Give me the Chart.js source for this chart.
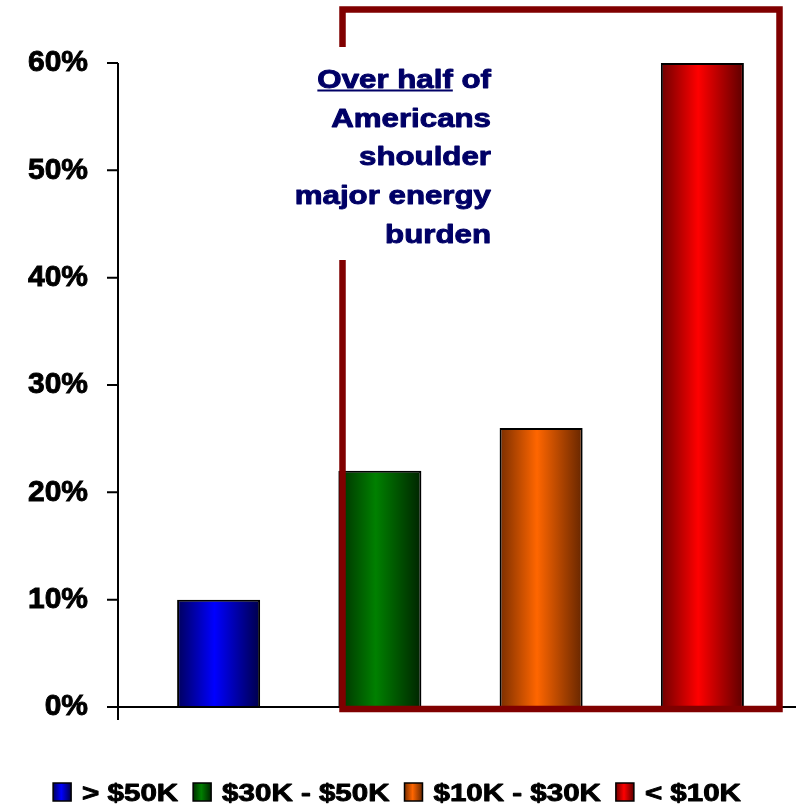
<!DOCTYPE html>
<html>
<head>
<meta charset="utf-8">
<title>Energy burden by income</title>
<script src="https://cdn.jsdelivr.net/npm/chart.js@4.4.1/dist/chart.umd.min.js"></script>
<style>
  html, body { margin: 0; padding: 0; background: #fff; }
  #wrap { width: 796px; height: 805px; position: relative; }
</style>
</head>
<body>
<div id="wrap"><canvas id="burden-chart"></canvas></div>
<script>
const incomeGroups = ['> $50K', '$30K - $50K', '$10K - $30K', '< $10K'];
const burdenShare = [10, 22, 26, 60];
const yTicks = [0, 10, 20, 30, 40, 50, 60];
const barColors = ['#0000FF', '#008000', '#FF6600', '#FF0000'];
const barShadeLeft = ['#00005C', '#002E00', '#7A2E00', '#6E0000'];
const barShadeRight = ['#00004A', '#002400', '#662600', '#5C0000'];
const noteLines = ['Over half of', 'Americans', 'shoulder', 'major energy', 'burden'];

const FONT = '"Liberation Sans", Arial, sans-serif';
const barPct = 0.515;

// left-dark / bright / right-dark shading like the old 3D office bars
function barGradient(ctx, left, right, i) {
    const g = ctx.createLinearGradient(left, 0, right, 0);
    g.addColorStop(0, barShadeLeft[i]);
    g.addColorStop(0.45, barColors[i]);
    g.addColorStop(1, barShadeRight[i]);
    return g;
}

// heavier text: fill plus a thin outline in the same colour
function heavyText(ctx, text, x, y, color, w) {
    ctx.fillStyle = color;
    ctx.strokeStyle = color;
    ctx.lineWidth = w;
    ctx.lineJoin = 'round';
    ctx.strokeText(text, x, y);
    ctx.fillText(text, x, y);
}

// axes, the framing box, the note and the legend
const burdenDecor = {
    id: 'burdenDecor',
    afterDatasetsDraw(chart) {
        const { ctx } = chart;
        const y = chart.scales.y;
        const zeroY = y.getPixelForValue(0);

        ctx.save();
        ctx.strokeStyle = '#000';
        ctx.lineWidth = 2;
        ctx.beginPath();
        ctx.moveTo(118, y.getPixelForValue(60));
        ctx.lineTo(118, zeroY + 13);
        yTicks.forEach(v => {
            const py = y.getPixelForValue(v);
            ctx.moveTo(107, py);
            ctx.lineTo(118, py);
        });
        ctx.moveTo(107, zeroY);
        ctx.lineTo(796, zeroY);
        ctx.stroke();

        // dark red box round the three lower income groups
        ctx.strokeStyle = '#800000';
        ctx.lineWidth = 6.5;
        ctx.lineJoin = 'miter';
        ctx.beginPath();
        ctx.moveTo(342.5, 47);
        ctx.lineTo(342.5, 9.5);
        ctx.lineTo(779.5, 9.5);
        ctx.lineTo(779.5, 709);
        ctx.lineTo(342.5, 709);
        ctx.lineTo(342.5, 260);
        ctx.stroke();

        // note text, stretched wide like the original
        const sx = 1.25;
        const right = 491 / sx;
        ctx.scale(sx, 1);
        ctx.font = 'bold 25px ' + FONT;
        ctx.textAlign = 'right';
        ctx.textBaseline = 'alphabetic';
        const navy = '#000066';
        const baselines = [87.5, 126.5, 165, 204, 243];
        const tail = ' of';
        const head = noteLines[0].slice(0, noteLines[0].length - tail.length);
        const wTail = ctx.measureText(tail).width;
        const wHead = ctx.measureText(head).width;
        heavyText(ctx, tail, right, baselines[0], navy, 0.9);
        heavyText(ctx, head, right - wTail, baselines[0], navy, 0.9);
        ctx.fillRect(right - wTail - wHead, baselines[0] + 2, wHead, 2);
        noteLines.slice(1).forEach((line, i) => {
            heavyText(ctx, line, right, baselines[i + 1], navy, 0.9);
        });
        ctx.restore();

        // legend
        ctx.save();
        const lx = 1.23;
        ctx.font = 'bold 24px ' + FONT;
        const widths = incomeGroups.map(t => ctx.measureText(t).width * lx);
        const box = 18, gapBox = 11, gapItem = 15;
        const total = widths.reduce((a, w) => a + w + box + gapBox, 0) + gapItem * (incomeGroups.length - 1);
        let x = 397 - total / 2;
        const boxTop = 783, base = 801;
        incomeGroups.forEach((label, i) => {
            ctx.fillStyle = barGradient(ctx, x, x + box, i);
            ctx.fillRect(x, boxTop, box, box);
            ctx.strokeStyle = '#000';
            ctx.lineWidth = 1.5;
            ctx.strokeRect(x, boxTop, box, box);
            const tx = x + box + gapBox;
            ctx.save();
            ctx.scale(lx, 1);
            ctx.textAlign = 'left';
            ctx.textBaseline = 'alphabetic';
            heavyText(ctx, label, tx / lx, base, '#000', 0.9);
            ctx.restore();
            x = tx + widths[i] + gapItem;
        });
        ctx.restore();
    }
};

function init() {
    Chart.defaults.font.family = FONT;
    new Chart(document.getElementById('burden-chart'), {
        type: 'bar',
        data: {
            labels: incomeGroups,
            datasets: [{
                label: 'Share with major energy burden',
                data: burdenShare,
                backgroundColor: (c) => {
                    const chart = c.chart;
                    const xs = chart.scales.x;
                    if (c.type !== 'data' || !xs || !chart.chartArea) return barColors[c.dataIndex || 0];
                    const half = xs.width / incomeGroups.length * barPct / 2;
                    const center = xs.getPixelForValue(c.dataIndex);
                    return barGradient(chart.ctx, center - half, center + half, c.dataIndex);
                },
                borderColor: '#000',
                borderWidth: 2,
                barPercentage: barPct,
                categoryPercentage: 1
            }]
        },
        options: {
            responsive: true,
            maintainAspectRatio: false,
            animation: false,
            layout: { padding: { left: 0, right: 13, top: 63, bottom: 98 } },
            plugins: {
                legend: { display: false },
                tooltip: { enabled: false }
            },
            scales: {
                x: { display: false },
                y: {
                    min: 0,
                    max: 60,
                    afterBuildTicks: (s) => { s.ticks = yTicks.map(v => ({ value: v })); },
                    afterFit: (s) => { s.width = 138; },
                    grid: {
                        display: true,
                        drawOnChartArea: false,
                        drawTicks: true,
                        tickLength: 40,
                        color: 'rgba(0,0,0,0)'
                    },
                    border: { display: false },
                    ticks: {
                        padding: 10,
                        color: '#000',
                        autoSkip: false,
                        textStrokeColor: '#000',
                        textStrokeWidth: 0.9,
                        font: { size: 30, weight: 'bold' },
                        callback: v => v + '%'
                    }
                }
            }
        },
        plugins: [burdenDecor]
    });
}

init();
</script>
</body>
</html>
